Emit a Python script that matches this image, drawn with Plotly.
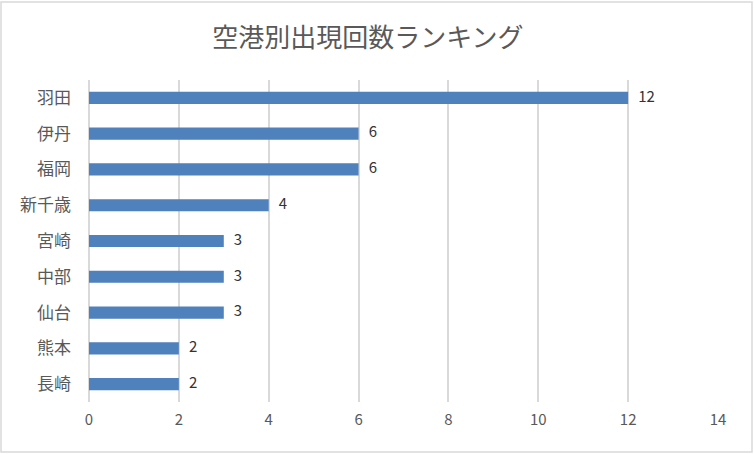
import plotly.graph_objects as go

# data
airports = ["羽田", "伊丹", "福岡", "新千歳", "宮崎", "中部", "仙台", "熊本", "長崎"]
counts = [12, 6, 6, 4, 3, 3, 3, 2, 2]
x_ticks = [0, 2, 4, 6, 8, 10, 12, 14]

BAR = "#4F81BD"
GRID = "#D9D9D9"
TEXT = "#595959"
FONT = "Noto Sans CJK JP"

fig = go.Figure()
fig.add_trace(go.Bar(
    x=counts, y=airports, orientation="h",
    marker=dict(color=BAR, line=dict(width=0)),
    width=0.34, hoverinfo="x+y",
))
# value labels beside the bars
fig.add_trace(go.Scatter(
    x=counts, y=airports, mode="text",
    text=[f"   {c}" for c in counts], textposition="middle right",
    textfont=dict(size=15, color="#333333", family=FONT),
    cliponaxis=False, hoverinfo="skip",
))

fig.update_layout(
    width=754, height=454,
    margin=dict(l=89, r=36, t=80, b=52, autoexpand=False),
    paper_bgcolor="white", plot_bgcolor="white",
    font=dict(family=FONT, color=TEXT, size=15),
    title=dict(text="空港別出現回数ランキング", x=0.488, xanchor="center",
               y=0.916, yanchor="middle",
               font=dict(size=26, color=TEXT, family=FONT)),
    showlegend=False,
    shapes=[dict(type="rect", xref="paper", yref="paper",
                 x0=-88 / 629, x1=1 + 34 / 629, y0=-50 / 322, y1=1 + 78 / 322,
                 line=dict(color="#D9D9D9", width=1.5))],
)
fig.update_xaxes(range=[0, 14], tickvals=x_ticks, showgrid=True, gridcolor=GRID,
                 gridwidth=1.5, zeroline=True, zerolinecolor=GRID, zerolinewidth=1.5,
                 showline=False, ticks="", tickfont=dict(size=15, color=TEXT),
                 ticklabelstandoff=7, automargin=False)
fig.update_yaxes(autorange="reversed", showgrid=False, showline=False, ticks="",
                 tickfont=dict(size=17, color=TEXT), ticklabelstandoff=17,
                 automargin=False)

# drop the default page margin so the chart sits at the window corner
fig.write_html("out.html", config={"displayModeBar": False},
               post_script="document.body.style.margin='0';")
